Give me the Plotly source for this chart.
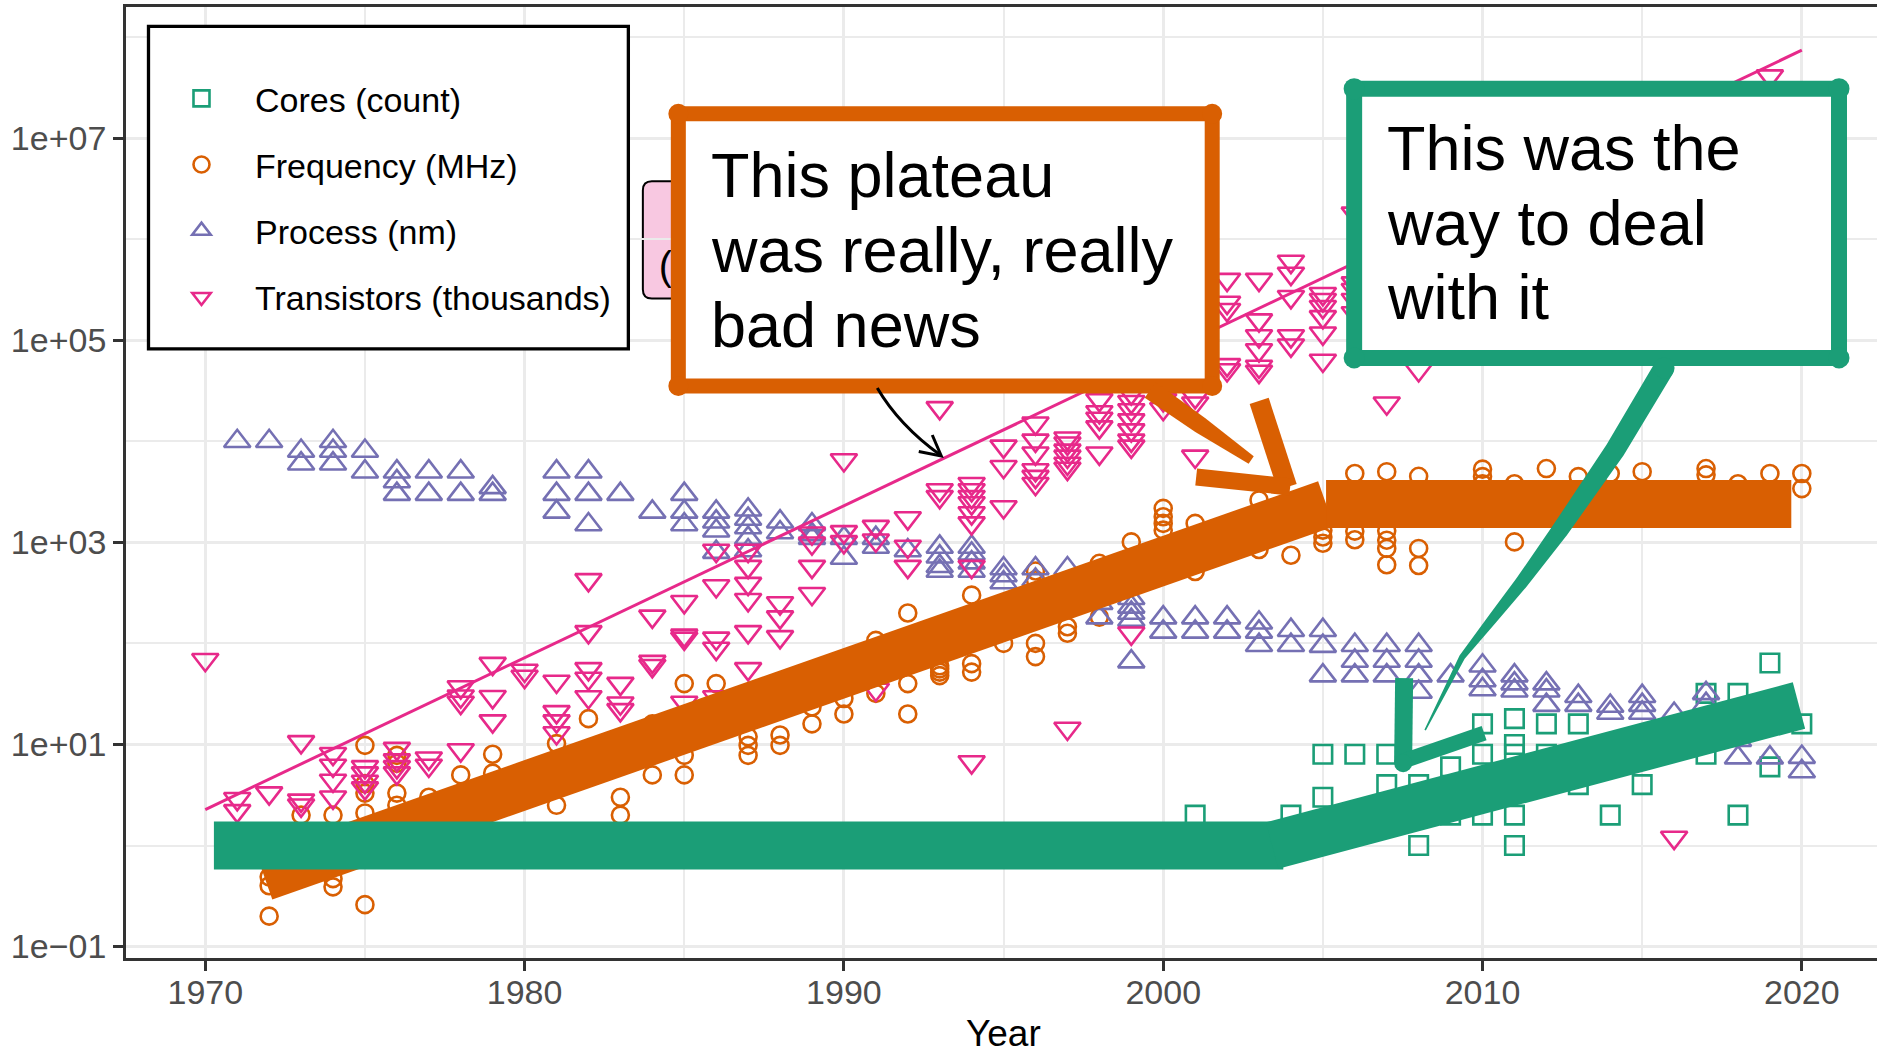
import math
import plotly.graph_objects as go

FONT = "Liberation Sans, Arial, Helvetica, sans-serif"

# ------------------------------------------------------------------ data
cores_years = [2001, 2004, 2005, 2005, 2006, 2007, 2007, 2008, 2008, 2009, 2009,
               2010, 2010, 2010, 2011, 2011, 2011, 2011, 2011, 2012, 2012,
               2013, 2013, 2014, 2015, 2017, 2017, 2018, 2018, 2019, 2019, 2020]
cores_values = [2, 2, 8, 3, 8, 8, 4, 4, 1, 6, 2,
                16, 8, 2, 18, 10, 8, 2, 1, 16, 8,
                16, 4, 2, 4, 32, 8, 32, 2, 64, 6, 16]

freq_years = [1972, 1972, 1972, 1973, 1974, 1974, 1974,
              1975, 1975, 1975, 1975, 1975, 1976, 1976, 1976, 1976,
              1977, 1978, 1979, 1979, 1981, 1981, 1982, 1983, 1983,
              1984, 1984, 1985, 1985, 1985, 1986, 1987, 1987, 1987,
              1988, 1988, 1989, 1989, 1990, 1990, 1991, 1991,
              1992, 1992, 1992, 1993, 1993, 1993, 1993, 1994, 1994, 1994,
              1995, 1996, 1996, 1996, 1996, 1997, 1997, 1998, 1998, 1999,
              2000, 2000, 2000, 2000, 2001, 2001, 2003, 2003, 2004,
              2005, 2005, 2005, 2006, 2006, 2006,
              2007, 2007, 2007, 2007, 2007, 2008, 2008, 2008,
              2010, 2010, 2010, 2011, 2011, 2012, 2013, 2014, 2015,
              2017, 2017, 2018, 2019, 2020, 2020]
freq_values = [0.49, 0.40, 0.2, 2.0, 2.0, 0.47, 0.39,
               9.8, 4.1, 3.3, 2.1, 0.26, 7.8, 6.5, 3.3, 2.5,
               3.0, 5.0, 8.0, 5.2, 10.2, 2.5, 18, 3.0, 2.0,
               16, 5.0, 40, 7.8, 5.0, 40, 11.9, 9.8, 7.8,
               12.4, 9.8, 23.5, 16, 28.5, 20, 107, 32,
               200, 40, 20, 60, 56, 52, 48, 300, 63, 52,
               100, 520, 425, 100, 74, 146, 126, 620, 182, 1010,
               2170, 1790, 1540, 1320, 1540, 515, 2630, 850, 745,
               1320, 1130, 980, 4800, 1290, 1060,
               5000, 1300, 1050, 870, 600, 4500, 870, 590,
               5300, 4470, 3800, 3800, 1010, 5370, 4470, 4800, 5000,
               5370, 4650, 3800, 4800, 4800, 3400]

process_years = [1971, 1972, 1973, 1973, 1974, 1974, 1974, 1975, 1975,
                 1976, 1976, 1976, 1977, 1977, 1978, 1978, 1979, 1979,
                 1981, 1981, 1981, 1982, 1982, 1982, 1983, 1984,
                 1985, 1985, 1985, 1986, 1986, 1986, 1986,
                 1987, 1987, 1987, 1987, 1987, 1988, 1988,
                 1989, 1989, 1989, 1990, 1990, 1991, 1991, 1992,
                 1993, 1993, 1993, 1993, 1994, 1994, 1994, 1994,
                 1995, 1995, 1995, 1996, 1996, 1997, 1997, 1997,
                 1998, 1998, 1999, 1999, 1999, 1999, 1999,
                 2000, 2000, 2001, 2001, 2002, 2002, 2003, 2003, 2003,
                 2004, 2004, 2005, 2005, 2005, 2006, 2006, 2006,
                 2007, 2007, 2007, 2008, 2008, 2008, 2008, 2009,
                 2010, 2010, 2010, 2011, 2011, 2011, 2012, 2012, 2012,
                 2013, 2013, 2014, 2014, 2015, 2015, 2015, 2016,
                 2017, 2017, 2018, 2018, 2019, 2020, 2020]
process_values = [10000, 10000, 8000, 6000, 10000, 8000, 6000, 8000, 5000,
                  5000, 4000, 3000, 5000, 3000, 5000, 3000, 3500, 3000,
                  5000, 3000, 2000, 5000, 3000, 1500, 3000, 2000,
                  3000, 2000, 1500, 2000, 1600, 1300, 800,
                  2100, 1700, 1400, 1100, 830, 1600, 1250,
                  1500, 1200, 1100, 1100, 700, 1100, 900, 830,
                  900, 720, 580, 520, 900, 770, 630, 520,
                  550, 470, 400, 550, 425, 550, 350, 250,
                  250, 180, 280, 230, 200, 170, 66,
                  180, 130, 180, 130, 180, 130, 160, 130, 96,
                  135, 96, 135, 94, 48, 96, 67, 48,
                  96, 67, 48, 96, 67, 48, 33, 48,
                  60, 43, 35, 48, 40, 34, 40, 34, 24.5,
                  30, 24.5, 24, 20.5, 30, 24.5, 20.5, 20,
                  32, 25, 11, 7.4, 7.4, 7.5, 5.4]

transistor_years = [1970, 1971, 1971, 1972, 1973, 1973, 1973,
                    1974, 1974, 1974, 1974, 1975, 1975, 1975, 1975,
                    1976, 1976, 1976, 1976, 1977, 1977,
                    1978, 1978, 1978, 1978, 1979, 1979, 1979, 1980, 1980,
                    1981, 1981, 1981, 1981, 1982, 1982, 1982, 1982, 1982,
                    1983, 1983, 1983, 1984, 1984, 1984,
                    1985, 1985, 1985, 1985, 1986, 1986, 1986, 1986, 1986,
                    1987, 1987, 1987, 1987, 1987, 1987, 1988, 1988, 1988,
                    1989, 1989, 1989, 1989, 1990, 1990, 1990,
                    1991, 1991, 1991, 1992, 1992, 1992, 1993, 1993, 1993,
                    1994, 1994, 1994, 1994, 1994, 1994, 1994, 1994,
                    1995, 1995, 1995, 1996, 1996, 1996, 1996, 1996, 1996,
                    1997, 1997, 1997, 1997, 1997, 1997, 1997,
                    1998, 1998, 1998, 1998, 1998,
                    1999, 1999, 1999, 1999, 1999, 1999, 1999, 1999,
                    2000, 2000, 2001, 2001, 2001,
                    2002, 2002, 2002, 2002, 2002,
                    2003, 2003, 2003, 2003, 2003, 2003,
                    2004, 2004, 2004, 2004, 2004,
                    2005, 2005, 2005, 2005, 2005, 2005,
                    2006, 2006, 2006, 2006, 2006,
                    2007, 2008, 2016, 2019]
transistor_values = [69, 2.9, 2.2, 3.3, 10.6, 2.8, 2.5,
                     8.1, 6.2, 4.4, 3.0, 6.0, 5.2, 4.3, 3.7,
                     9.1, 7.0, 6.0, 5.2, 7.3, 6.2,
                     37, 30, 26, 8.8, 63, 29.6, 17, 54, 47,
                     42, 21, 17, 13, 425, 130, 56, 45, 29.5,
                     40, 25.6, 22, 185, 66, 60,
                     258, 120, 112, 26, 830, 370, 112, 89, 29.5,
                     830, 575, 390, 270, 130, 56, 251, 182, 116,
                     1230, 980, 575, 310, 6530, 1270, 1010,
                     1430, 1050, 35, 1740, 910, 575, 21400, 3300, 2820,
                     3800, 3300, 2820, 2450, 1950, 1550, 575, 6.7,
                     8900, 5600, 2240, 15100, 10200, 7600, 5200, 4470, 3800,
                     10700, 9550, 8130, 7080, 6030, 5370, 14.4,
                     25700, 19500, 16800, 13800, 7600,
                     30000, 24600, 20400, 16200, 12900, 10200, 8900, 126,
                     25700, 21000, 27500, 23800, 7080,
                     398000, 236000, 200000, 57000, 50800,
                     398000, 158000, 110000, 80000, 55000, 49000,
                     600000, 457000, 269000, 110000, 89000,
                     288000, 251000, 214000, 170000, 117000, 63000,
                     1800000, 367000, 316000, 251000, 186000,
                     23800, 50800, 1.2, 41000000]

# Moore's-law reference line (two end points)
moore_years = [1970, 2020]
moore_values = [2.27, 7.41e7]

# hand-drawn trend bands
freq_rise_years = [1971.85, 2005.10]
freq_rise_values = [0.489, 2400]
freq_plateau_years = [2005.10, 2019.67]
freq_plateau_values = [2390, 2390]
cores_flat_years = [1970.27, 2003.76]
cores_flat_values = [1.0, 1.0]
cores_rise_years = [2003.41, 2019.91]
cores_rise_values = [1.0, 24.3]

# half-hidden pink label (anchor in data units)
moore_label_text = ["(2x every 2 years)"]
moore_label_year = [1984.2]
moore_label_value = [4.9e5]

x_tick_vals = [1970, 1980, 1990, 2000, 2010, 2020]
x_minor_vals = [1975, 1985, 1995, 2005, 2015]
y_tick_vals = [1e-1, 1e1, 1e3, 1e5, 1e7]
y_tick_text = ["1e\u221201", "1e+01", "1e+03", "1e+05", "1e+07"]
y_minor_vals = [1, 1e2, 1e4, 1e6, 1e8]

GREEN, ORANGE, PURPLE, PINK = "#1B9E77", "#D95F02", "#7570B3", "#E7298A"

# ------------------------------------------------------------------ figure
fig = go.Figure()
series = [
    ("Cores (count)", cores_years, cores_values, GREEN, "square-open", 18.5),
    ("Frequency (MHz)", freq_years, freq_values, ORANGE, "circle-open", 17),
    ("Process (nm)", process_years, process_values, PURPLE, "triangle-up-open", 23),
    ("Transistors (thousands)", transistor_years, transistor_values, PINK, "triangle-down-open", 23),
]
for i, (name, xs, ys, col, sym, sz) in enumerate(series):
    fig.add_trace(go.Scatter(
        x=xs, y=ys, mode="markers", name=name, legendgroup=f"g{i}",
        marker=dict(symbol=sym, size=sz, color=col, line=dict(width=2.6, color=col)),
        hoverinfo="skip"))

fig.add_trace(go.Scatter(x=moore_years, y=moore_values, mode="lines",
                         line=dict(color=PINK, width=3), showlegend=False, hoverinfo="skip"))
for xs, ys, col in [(freq_rise_years, freq_rise_values, ORANGE),
                    (freq_plateau_years, freq_plateau_values, ORANGE),
                    (cores_flat_years, cores_flat_values, GREEN),
                    (cores_rise_years, cores_rise_values, GREEN)]:
    fig.add_trace(go.Scatter(x=xs, y=ys, mode="lines", line=dict(color=col, width=48),
                             showlegend=False, hoverinfo="skip"))
fig.add_trace(go.Scatter(x=moore_label_year, y=moore_label_value, mode="text",
                         text=moore_label_text, textposition="middle right",
                         textfont=dict(size=40, color="black", family=FONT),
                         showlegend=False, hoverinfo="skip"))

# ------------------------------------------------------------------ layout geometry (pixels)
W, H = 1877, 1054
L, T, B = 125.5, 7.3, 957.7
PW, PH = W - L, B - T


def fx(X):
    return (X - L) / PW


def fy(Y):
    return (B - Y) / PH


def P(X, Y):
    return f"{fx(X):.5f},{fy(Y):.5f}"


def rrect(x0, y0, x1, y1, r):
    return ("M" + P(x0 + r, y0) + " L" + P(x1 - r, y0) + " Q" + P(x1, y0) + " " + P(x1, y0 + r) +
            " L" + P(x1, y1 - r) + " Q" + P(x1, y1) + " " + P(x1 - r, y1) +
            " L" + P(x0 + r, y1) + " Q" + P(x0, y1) + " " + P(x0, y1 - r) +
            " L" + P(x0, y0 + r) + " Q" + P(x0, y0) + " " + P(x0 + r, y0) + " Z")


def taper(points, half):
    left, right = [], []
    n = len(points)
    for i, (x, y) in enumerate(points):
        if i == 0:
            dx, dy = points[1][0] - x, points[1][1] - y
        elif i == n - 1:
            dx, dy = x - points[i - 1][0], y - points[i - 1][1]
        else:
            dx, dy = points[i + 1][0] - points[i - 1][0], points[i + 1][1] - points[i - 1][1]
        ln = math.hypot(dx, dy)
        nx, ny = -dy / ln, dx / ln
        left.append((x + nx * half[i], y + ny * half[i]))
        right.append((x - nx * half[i], y - ny * half[i]))
    pts = left + right[::-1]
    return "M" + " L".join(P(*p) for p in pts) + " Z"


def circle(X, Y, r, col):
    return dict(type="circle", xref="paper", yref="paper", layer="above",
                x0=fx(X - r), x1=fx(X + r), y0=fy(Y + r), y1=fy(Y - r),
                fillcolor=col, line=dict(width=0))


def seg(x0, y0, x1, y1, col, w):
    return dict(type="line", xref="paper", yref="paper", layer="above",
                x0=fx(x0), y0=fy(y0), x1=fx(x1), y1=fy(y1), line=dict(color=col, width=w))


shapes = []
# half-hidden pink label box (between grid and traces)
shapes.append(dict(type="path", xref="paper", yref="paper", layer="between",
                   path=rrect(642.5, 181.5, 1014, 298.5, 9),
                   fillcolor="#F8C8E1", line=dict(color="black", width=2)))
# legend frame
shapes.append(dict(type="rect", xref="paper", yref="paper", layer="above",
                   x0=fx(148), x1=fx(628), y0=fy(349), y1=fy(26.7),
                   fillcolor="white", line=dict(color="black", width=3.3)))
# orange call-out box
shapes.append(dict(type="path", xref="paper", yref="paper", layer="above",
                   path=rrect(678, 114, 1212, 386, 5),
                   fillcolor="white", line=dict(color=ORANGE, width=15)))
for cx, cy in [(678, 114), (1212, 114), (678, 386), (1212, 386)]:
    shapes.append(circle(cx, cy, 10, ORANGE))
# green call-out box
shapes.append(dict(type="path", xref="paper", yref="paper", layer="above",
                   path=rrect(1354, 89, 1839, 358, 5),
                   fillcolor="white", line=dict(color=GREEN, width=16)))
for cx, cy in [(1354, 89), (1839, 89), (1354, 358), (1839, 358)]:
    shapes.append(circle(cx, cy, 10.5, GREEN))
# orange arrow
shapes.append(dict(type="path", xref="paper", yref="paper", layer="above",
                   path=taper([(1150, 390), (1200, 425), (1251, 460)], [9.5, 8.5, 4.5]),
                   fillcolor=ORANGE, line=dict(width=0)))
shapes.append(seg(1259, 401, 1287, 487, ORANGE, 20))
shapes.append(seg(1196, 477, 1290, 487, ORANGE, 17))
# black curved arrow
shapes.append(dict(type="path", xref="paper", yref="paper", layer="above",
                   path="M" + P(877, 388) + " Q" + P(898.7, 425.1) + " " + P(940, 455),
                   line=dict(color="black", width=3)))
shapes.append(dict(type="path", xref="paper", yref="paper", layer="above",
                   path="M" + P(932, 435) + " L" + P(941, 456) + " L" + P(918.5, 451.5),
                   line=dict(color="black", width=3)))
# green arrow
shapes.append(dict(type="path", xref="paper", yref="paper", layer="above",
                   path=taper([(1664, 368), (1615, 450), (1560, 530), (1521, 583),
                               (1493, 618), (1462, 657), (1425, 730)],
                              [10.5, 10, 8.5, 6.5, 5, 3, 0.8]),
                   fillcolor=GREEN, line=dict(width=0)))
shapes.append(circle(1664, 368, 10.5, GREEN))
shapes.append(seg(1404, 678, 1403, 763, GREEN, 18))
shapes.append(seg(1403, 761, 1484, 733, GREEN, 15))
shapes.append(circle(1403, 763, 9, GREEN))

# text annotations
annotations = []
for txt, base in [("This plateau", 196.7), ("was really, really", 271.7), ("bad news", 346.7)]:
    annotations.append(dict(xref="paper", yref="paper", x=fx(709), y=fy(base - 0.3465 * 63),
                            xanchor="left", yanchor="middle", showarrow=False, text=txt,
                            font=dict(size=63, color="black", family=FONT)))
for txt, base in [("This was the", 170), ("way to deal", 245), ("with it", 319.3)]:
    annotations.append(dict(xref="paper", yref="paper", x=fx(1385), y=fy(base - 0.3465 * 63),
                            xanchor="left", yanchor="middle", showarrow=False, text=txt,
                            font=dict(size=63, color="black", family=FONT)))
annotations.append(dict(xref="paper", yref="paper", x=fx(1003.6), y=fy(1046 - 0.3465 * 37),
                        xanchor="center", yanchor="middle", showarrow=False, text="Year",
                        font=dict(size=37, color="black", family=FONT)))

axis_common = dict(showgrid=True, gridcolor="#EBEBEB", gridwidth=3, zeroline=False,
                   showline=True, linecolor="#333333", linewidth=2.7,
                   ticks="outside", ticklen=10, tickwidth=2.7, tickcolor="#333333",
                   tickfont=dict(size=34, color="#4D4D4D", family=FONT))

fig.update_layout(
    width=W, height=H,
    margin=dict(l=L, r=0, t=T, b=H - B, pad=0),
    paper_bgcolor="white", plot_bgcolor="white",
    font=dict(family=FONT, color="#4D4D4D"),
    xaxis=dict(range=[1967.517, 2022.354], tickmode="array", tickvals=x_tick_vals,
               ticktext=[str(v) for v in x_tick_vals], mirror=True, ticklabelstandoff=-8,
               minor=dict(tickmode="array", tickvals=x_minor_vals, showgrid=True,
                          gridcolor="#EBEBEB", gridwidth=1.8, ticks=""),
               **axis_common),
    yaxis=dict(type="log", range=[-1.113, 8.297], tickmode="array", tickvals=y_tick_vals,
               ticktext=y_tick_text,
               minor=dict(tickmode="array", tickvals=y_minor_vals, showgrid=True,
                          gridcolor="#EBEBEB", gridwidth=1.8, ticks=""),
               **axis_common),
    showlegend=True,
    legend=dict(x=fx(147.5), y=fy(70), xanchor="left", yanchor="top",
                bgcolor="rgba(0,0,0,0)", borderwidth=0, tracegroupgap=19, itemwidth=97,
                font=dict(size=34, color="black", family=FONT)),
    shapes=shapes,
    annotations=annotations,
)

fig.write_html("out.html", config={"displayModeBar": False},
               post_script="document.body.style.margin='0';document.body.style.overflow='hidden';")
